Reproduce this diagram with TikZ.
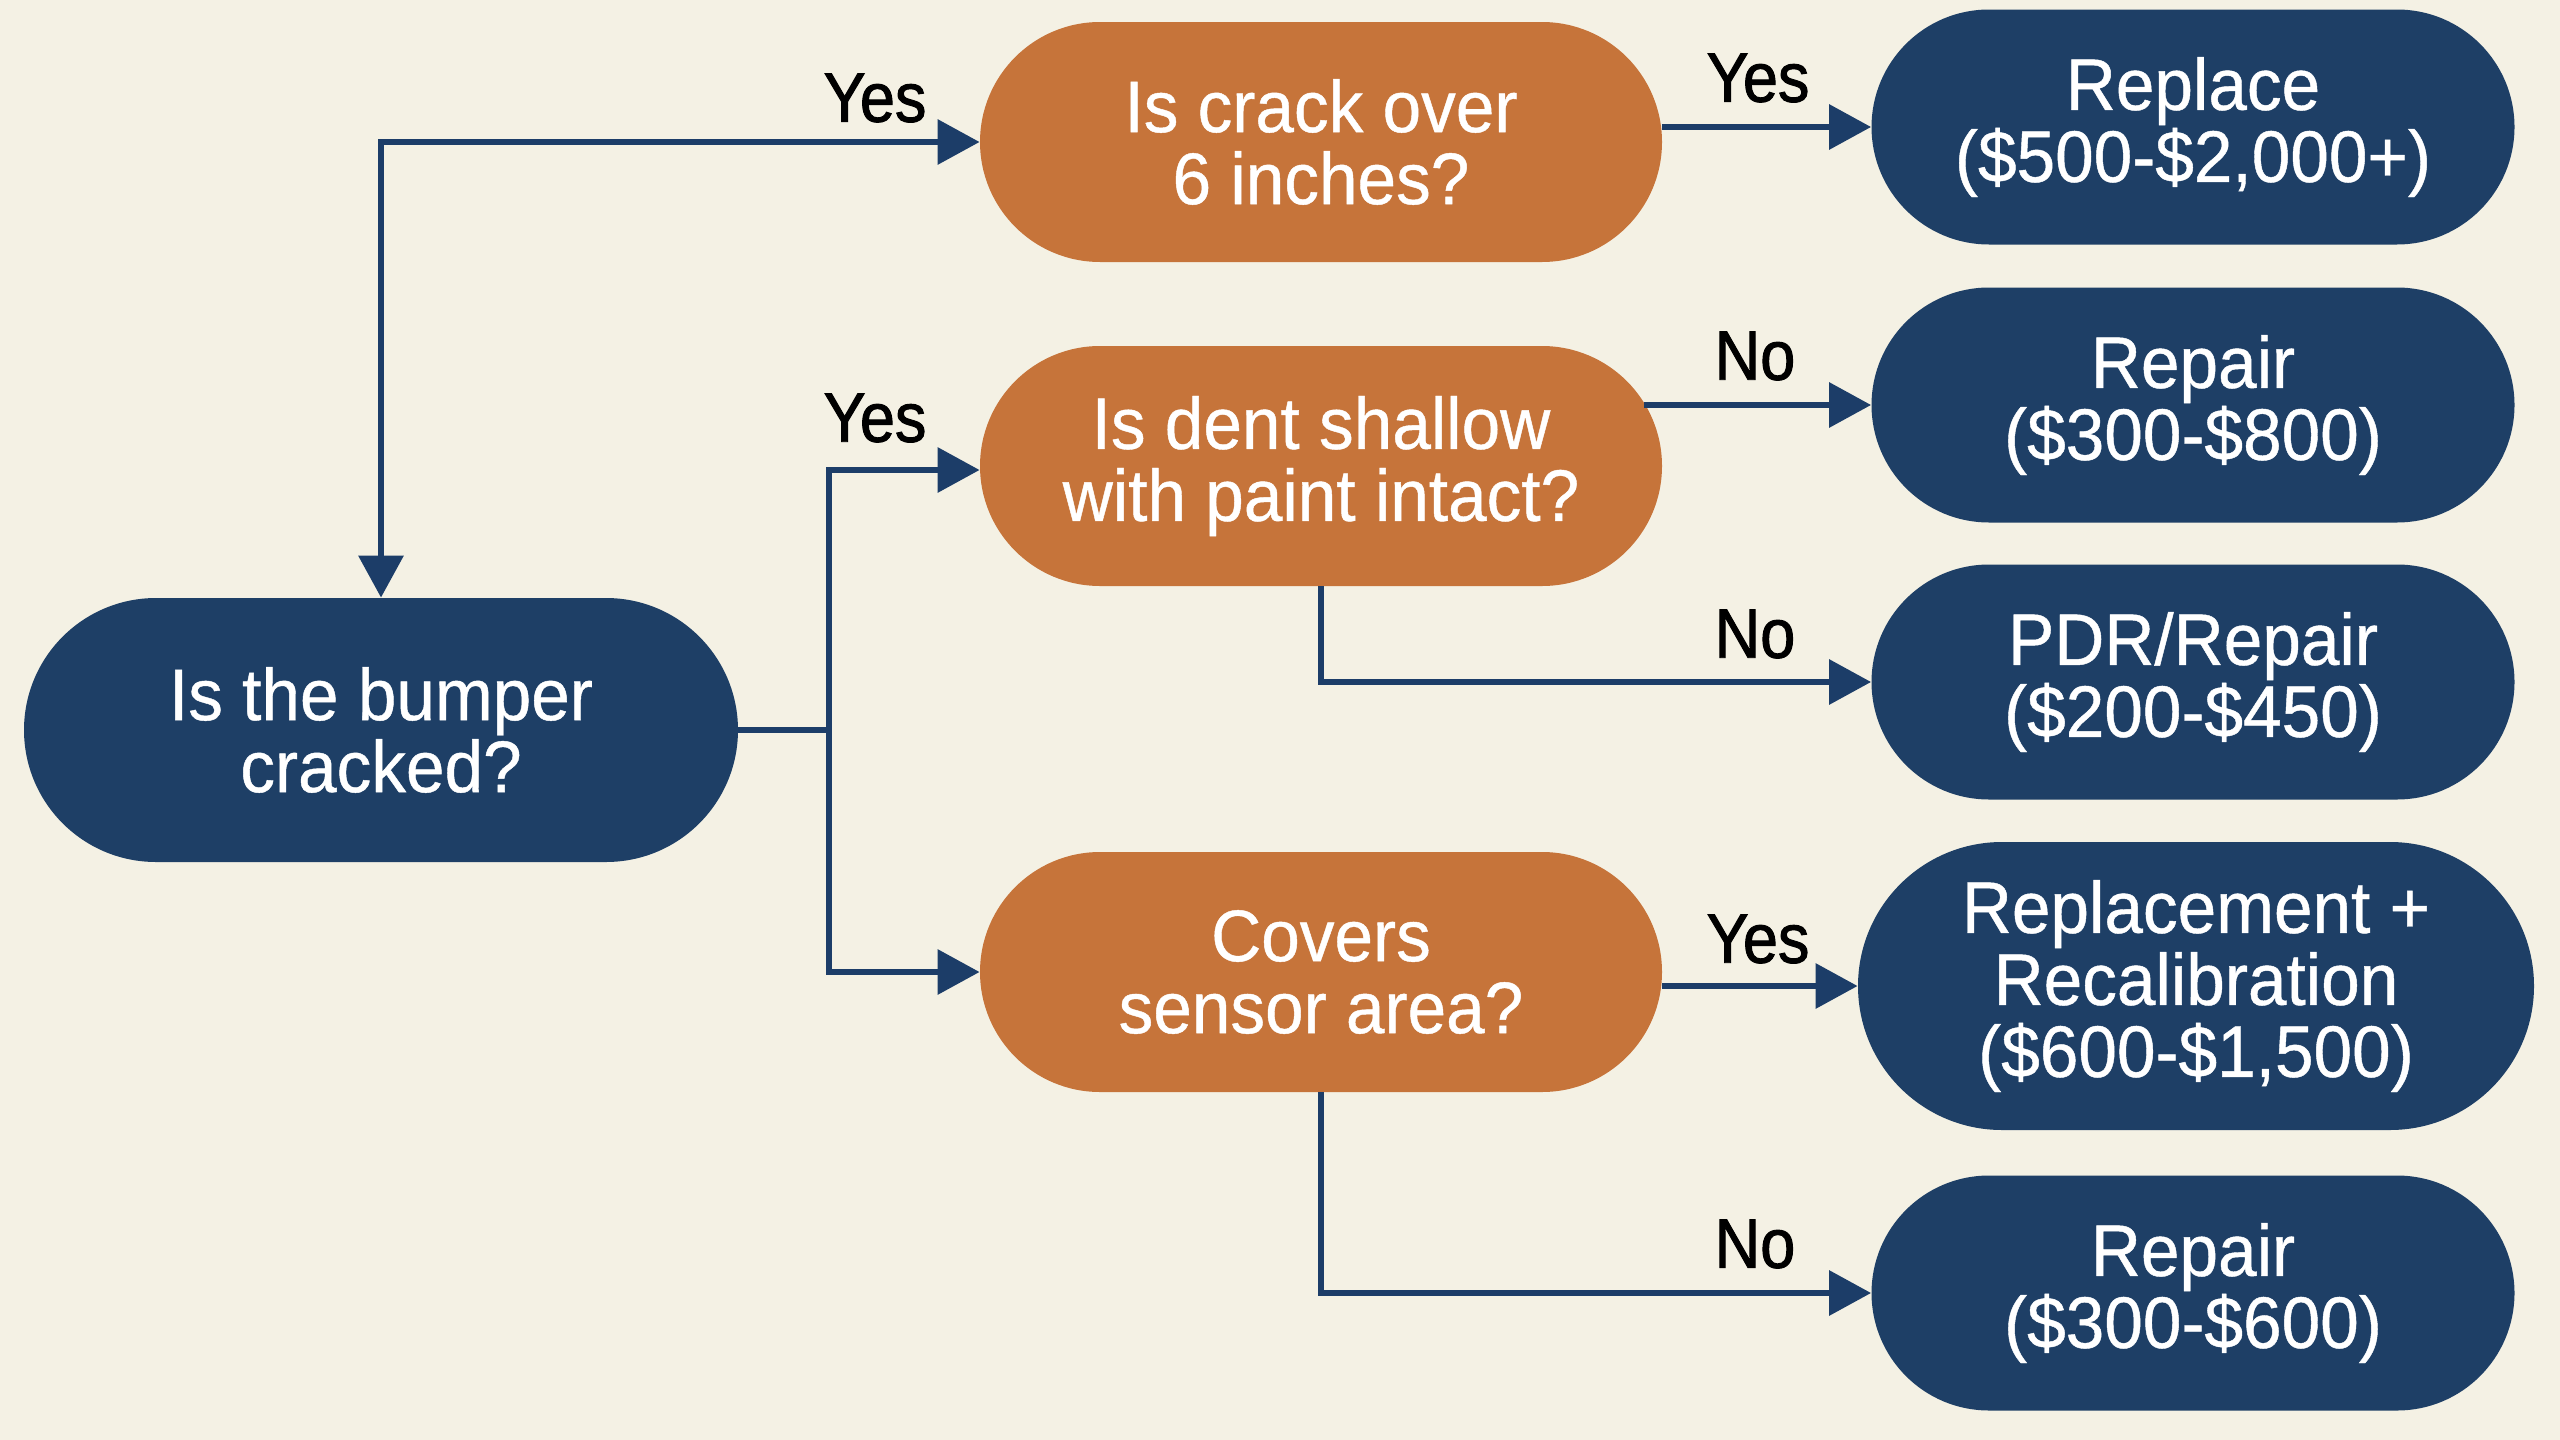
\documentclass[tikz,border=0pt]{standalone}
\usepackage{fontspec}
\setmainfont{Liberation Sans}
\newfontfamily\nodefont{Liberation Sans}[FakeStretch=0.95,FakeBold=0.6]
\newfontfamily\lblfont{Liberation Sans}[FakeStretch=0.9,FakeBold=1.4]
\usetikzlibrary{shapes.misc,arrows.meta,calc}
\definecolor{bgc}{HTML}{F4F1E4}
\definecolor{navy}{HTML}{1E3F66}
\definecolor{linec}{HTML}{1C3D68}
\definecolor{orng}{HTML}{C6743A}
\tikzset{
  term/.style={rounded rectangle, fill=navy, text=white, align=center, inner sep=0pt,
    font=\nodefont\fontsize{36.5}{36}\selectfont},
  ques/.style={rounded rectangle, fill=orng, text=white, align=center, inner sep=0pt,
    minimum width=341pt, minimum height=120pt, font=\nodefont\fontsize{36.5}{36}\selectfont},
  res/.style={term, minimum width=321.5pt, minimum height=117.5pt},
  lbl/.style={text=black, inner sep=0pt, font=\lblfont\fontsize{35}{36}\selectfont},
  conn/.style={draw=linec, line width=3.2pt},
  arr/.style={conn, -{Triangle[length=21pt,width=22pt]}},
}
\begin{document}
\begin{tikzpicture}[x=0.5pt,y=-0.5pt]
\fill[bgc] (0,0) rectangle (2560,1440);
\useasboundingbox (0,0) rectangle (2560,1440);
% nodes
\node[term, minimum width=357pt, minimum height=132pt] (root) at (381,730) {Is the bumper\\cracked?};
\node[ques] (q1) at (1321,142) {Is crack over\\6 inches?};
\node[ques] (q2) at (1321,466) {Is dent shallow\\with paint intact?};
\node[ques] (q3) at (1321,972) {Covers\\sensor area?};
\node[res] (r1) at (2193,127) {Replace\\(\$500-\$2,000+)};
\node[res] (r2) at (2193,405) {Repair\\(\$300-\$800)};
\node[res] (r3) at (2193,682) {PDR/Repair\\(\$200-\$450)};
\node[term, minimum width=338pt, minimum height=144pt] (r4) at (2196,986) {Replacement +\\Recalibration\\(\$600-\$1,500)};
\node[res] (r5) at (2193,1293) {Repair\\(\$300-\$600)};
% labels
\node[lbl] (l1) at (875,98) {Yes};
\node[lbl] (l2) at (875,418) {Yes};
\node[lbl] (l3) at (1758,78) {Yes};
\node[lbl] (l4) at (1755,356) {No};
\node[lbl] (l5) at (1755,634) {No};
\node[lbl] (l6) at (1758,939) {Yes};
\node[lbl] (l7) at (1755,1244) {No};
% connectors
\coordinate (j) at (829,730);
\coordinate (q2e) at ([xshift=-9pt]q2.east);
\draw[conn, {Triangle[length=21pt,width=22pt]}-{Triangle[length=21pt,width=22pt]}] (root.north) |- (q1.west);
\draw[conn] (root.east) -- (j);
\draw[arr] (j) |- ($(q2.west)+(0,4)$);
\draw[arr] (j) |- (q3.west);
\draw[arr] (q1.east |- r1.west) -- (r1.west);
\draw[arr] (q2e |- r2.west) -- (r2.west);
\draw[arr] (q2.south) |- (r3.west);
\draw[arr] (q3.east |- r4.west) -- (r4.west);
\draw[arr] (q3.south) |- (r5.west);
\end{tikzpicture}
\end{document}
